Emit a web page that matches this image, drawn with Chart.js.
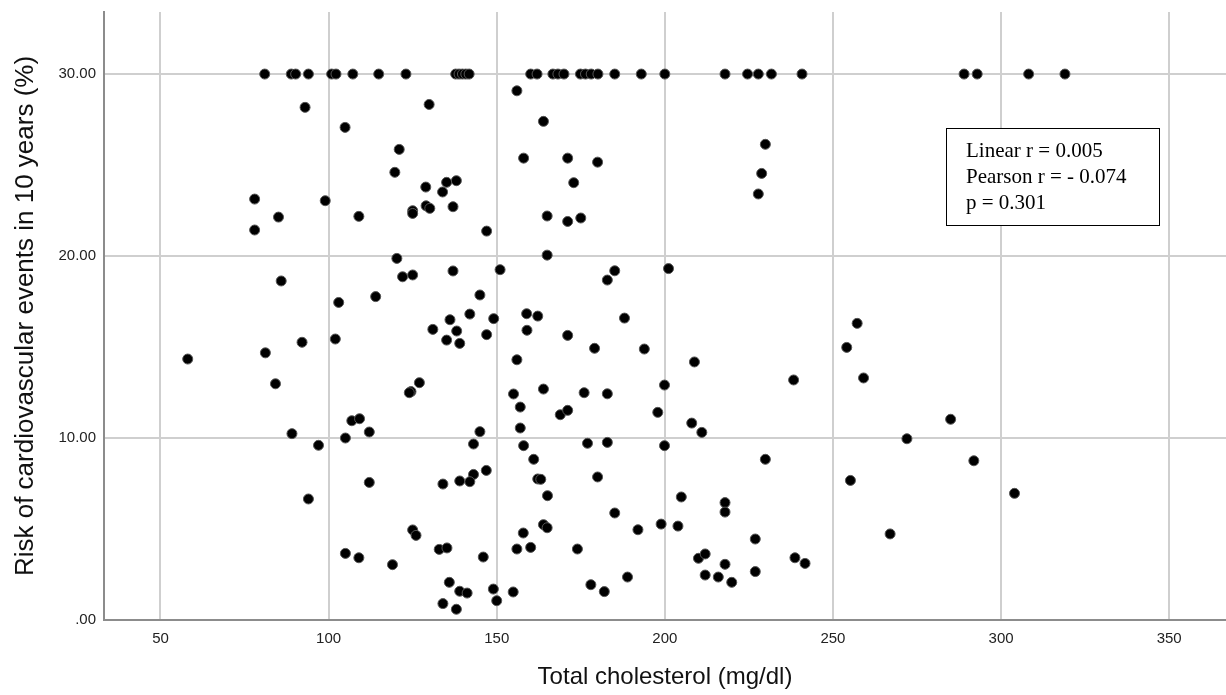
<!DOCTYPE html>
<html>
<head>
<meta charset="utf-8">
<script src="https://cdn.jsdelivr.net/npm/chart.js@4/dist/chart.umd.min.js"></script>
<style>
  html, body { margin: 0; padding: 0; background: #fff; overflow: hidden; }
  canvas { display: block; }
</style>
</head>
<body>
<canvas id="chart" width="1226" height="695"></canvas>
<script>
// Total cholesterol (mg/dl)
const cholesterol = [
  81.0, 88.9, 90.2, 94.0, 100.9, 102.2, 107.2, 114.9, 123.0, 137.8, 138.8, 139.8, 140.8, 141.8,
  160.1, 162.0, 166.7, 168.2, 170.0, 174.9, 176.4, 178.1, 180.1, 185.1, 193.0, 200.0,
  217.9, 224.6, 227.8, 231.7, 240.8, 289.0, 292.9, 308.2, 319.0,
  93.0, 104.9, 121.0, 119.7, 78.0, 99.0, 85.1, 109.0, 78.0, 120.3,
  156.0, 129.9, 163.9, 158.0, 171.1, 180.0, 128.9, 135.1, 138.0, 133.9, 172.9,
  125.0, 125.0, 129.0, 130.1, 137.0, 147.0, 165.0, 171.1, 175.0, 165.0,
  229.9, 228.8, 227.8,
  85.9, 103.0, 114.0, 92.1, 102.0, 81.2, 58.1, 84.2, 106.9, 109.2, 112.1, 89.1, 105.0, 97.0,
  122.0, 125.0, 137.0, 151.0, 185.1, 182.9, 201.1, 145.0, 142.0, 158.9, 162.2, 188.0,
  136.1, 149.1, 131.0, 138.1, 159.0, 135.1, 139.0, 147.0, 171.1, 179.1, 193.9, 156.0, 208.8,
  127.0, 124.5, 124.0, 155.0, 163.9, 176.0, 182.9, 199.9, 157.0, 168.9, 171.1, 197.9, 208.0,
  157.0, 145.0, 143.1, 158.0, 177.0, 182.9, 199.9, 211.0,
  257.2, 254.1, 238.3, 259.1, 285.0, 272.0,
  112.1, 94.0, 105.0, 109.0, 119.0,
  161.0, 180.0, 162.2, 163.1, 165.1, 146.9, 143.1, 139.0, 142.0, 134.0, 204.9, 185.1,
  192.0, 198.9, 203.9, 210.0, 125.0, 126.0, 163.9, 165.0, 157.9, 156.0, 160.1, 174.0,
  132.9, 135.2, 146.0, 188.9, 178.0, 182.0, 135.9, 139.0, 141.2, 149.0, 150.0, 154.9,
  134.0, 138.0,
  229.9, 217.9, 217.9, 226.9, 212.0, 217.9, 212.0, 215.9, 219.9, 226.9, 238.7, 241.7,
  255.2, 291.9, 304.0, 267.0
];

// Risk of cardiovascular events in 10 years (%)
const risk = [
  30, 30, 30, 30, 30, 30, 30, 30, 30, 30, 30, 30, 30, 30,
  30, 30, 30, 30, 30, 30, 30, 30, 30, 30, 30, 30,
  30, 30, 30, 30, 30, 30, 30, 30, 30,
  28.17, 27.07, 25.86, 24.6, 23.13, 23.04, 22.14, 22.18, 21.43, 19.87,
  29.08, 28.33, 27.40, 25.38, 25.38, 25.16, 23.79, 24.05, 24.14, 23.52, 24.03,
  22.49, 22.34, 22.76, 22.62, 22.71, 21.37, 22.20, 21.9, 22.09, 20.05,
  26.14, 24.54, 23.41,
  18.63, 17.45, 17.77, 15.26, 15.44, 14.68, 14.34, 12.98, 10.95, 11.06, 10.33, 10.24, 10.0, 9.6,
  18.86, 18.96, 19.18, 19.25, 19.19, 18.68, 19.31, 17.86, 16.81, 16.83, 16.70, 16.59,
  16.5, 16.56, 15.97, 15.88, 15.92, 15.38, 15.2, 15.68, 15.64, 14.93, 14.89, 14.30, 14.18,
  13.04, 12.55, 12.49, 12.42, 12.69, 12.49, 12.43, 12.91, 11.70, 11.28, 11.52, 11.41, 10.82,
  10.55, 10.35, 9.67, 9.58, 9.71, 9.76, 9.58, 10.31,
  16.30, 14.98, 13.19, 13.30, 11.03, 9.96,
  7.56, 6.65, 3.66, 3.42, 3.04,
  8.83, 7.86, 7.75, 7.73, 6.83, 8.22, 8.0, 7.64, 7.60, 7.47, 6.76, 5.88,
  4.96, 5.27, 5.16, 3.39, 4.95, 4.65, 5.24, 5.07, 4.78, 3.90, 3.99, 3.90,
  3.88, 3.96, 3.46, 2.36, 1.94, 1.56, 2.07, 1.58, 1.48, 1.70, 1.06, 1.54,
  0.90, 0.59,
  8.83, 6.45, 5.93, 4.45, 3.63, 3.06, 2.47, 2.36, 2.07, 2.66, 3.42, 3.11,
  7.67, 8.75, 6.96, 4.73
];

const xTicks = [50, 100, 150, 200, 250, 300, 350];
const yTicks = [0, 10, 20, 30];
const yTickLabels = ['.00', '10.00', '20.00', '30.00'];
const statLines = ['Linear r = 0.005', 'Pearson r = - 0.074', 'p = 0.301'];

const points = cholesterol.map((x, i) => ({ x: x, y: risk[i] }));

// stats box drawn on top of the plot
const statBox = {
  id: 'statBox',
  afterDatasetsDraw(chart) {
    const ctx = chart.ctx;
    ctx.save();
    ctx.fillStyle = '#fff';
    ctx.fillRect(946, 128, 213, 98);
    ctx.strokeStyle = '#000';
    ctx.lineWidth = 1;
    ctx.strokeRect(946.5, 128.5, 213, 97);
    ctx.fillStyle = '#000';
    ctx.font = '21px "Liberation Serif", "Times New Roman", serif';
    ctx.textBaseline = 'middle';
    statLines.forEach((t, i) => ctx.fillText(t, 966, 151 + i * 26));
    ctx.restore();
  }
};

new Chart(document.getElementById('chart'), {
  type: 'scatter',
  data: {
    datasets: [{
      data: points,
      backgroundColor: '#000',
      borderColor: '#555',
      borderWidth: 1,
      pointRadius: 5,
      pointHoverRadius: 5
    }]
  },
  options: {
    responsive: false,
    animation: false,
    devicePixelRatio: 1,
    layout: { autoPadding: false, padding: { top: 12, right: 0, bottom: 0, left: 0 } },
    plugins: { legend: { display: false }, tooltip: { enabled: false } },
    scales: {
      x: {
        type: 'linear',
        min: 33.2,
        max: 366.9,
        afterFit: s => { s.height = 75; s.paddingLeft = 0; s.paddingRight = 0; },
        afterBuildTicks: s => { s.ticks = xTicks.map(v => ({ value: v })); },
        grid: { color: '#cfcfcf', lineWidth: 2, drawTicks: false },
        border: { color: '#8c8c8c', width: 2 },
        ticks: { padding: 10, color: '#222', font: { family: '"Liberation Sans", Arial, sans-serif', size: 15 } },
        title: {
          display: true,
          text: 'Total cholesterol (mg/dl)',
          color: '#111',
          font: { family: '"Liberation Sans", Arial, sans-serif', size: 24, lineHeight: 1 },
          padding: { top: 0, bottom: 6 }
        }
      },
      y: {
        type: 'linear',
        min: 0,
        max: 33.41,
        afterFit: s => { s.width = 104; s.paddingTop = 0; s.paddingBottom = 0; },
        afterBuildTicks: s => { s.ticks = yTicks.map(v => ({ value: v })); },
        grid: { color: '#cfcfcf', lineWidth: 2, drawTicks: false },
        border: { color: '#8c8c8c', width: 2 },
        ticks: {
          padding: 8,
          color: '#222',
          font: { family: '"Liberation Sans", Arial, sans-serif', size: 15 },
          callback: v => yTickLabels[yTicks.indexOf(v)]
        },
        title: {
          display: true,
          text: 'Risk of cardiovascular events in 10 years (%)',
          color: '#111',
          font: { family: '"Liberation Sans", Arial, sans-serif', size: 26, lineHeight: 1 },
          padding: { top: 13, bottom: 0 }
        }
      }
    }
  },
  plugins: [statBox]
});
</script>
</body>
</html>
